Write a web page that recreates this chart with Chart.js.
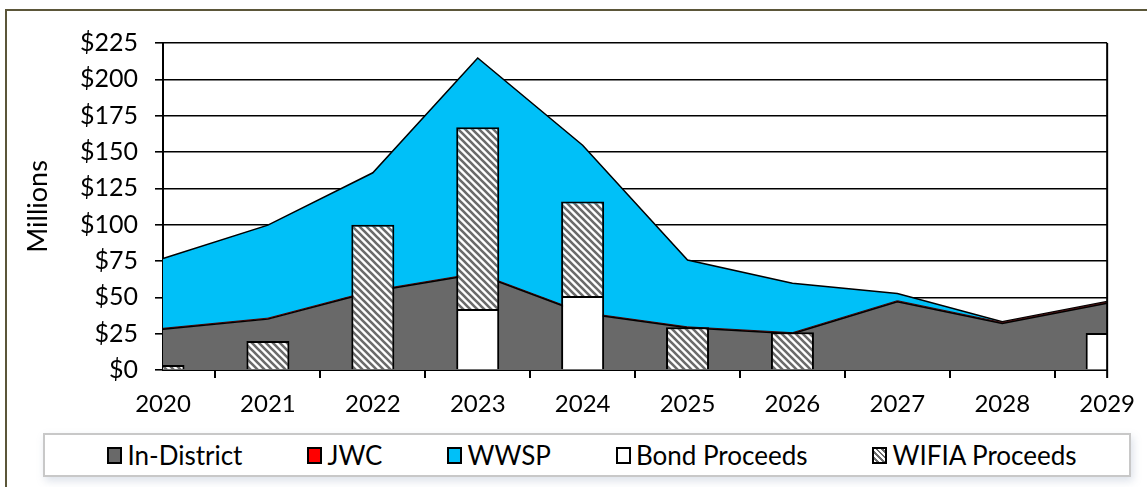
<!DOCTYPE html>
<html>
<head>
<meta charset="utf-8">
<script src="https://cdn.jsdelivr.net/npm/chart.js@4"></script>
<style>
  body { margin: 0; background: #fff; font-family: Lato, sans-serif; }
  #frame { position: absolute; left: 5px; top: 9px; width: 1160px; height: 500px;
           border-left: 2px solid #5b5639; border-top: 2px solid #5b5639; }
  #wrap { position: absolute; left: 0; top: 0; width: 1147px; height: 425px; }
  #legend { position: absolute; left: 43px; top: 433px; width: 1074px; height: 40px;
            border: 2px solid #c8c8c8; box-shadow: 2px 4px 8px rgba(120,140,170,0.25);
            display: flex; align-items: center; justify-content: center; gap: 65px;
            font-size: 26px; color: #000; padding-left: 10px; box-sizing: content-box; }
  .item { display: flex; align-items: center; white-space: nowrap; }
  .sw { width: 11px; height: 13px; border: 2px solid #000; margin-right: 5px; }
</style>
</head>
<body>
<div id="frame"></div>
<div id="wrap"><canvas id="fundChart"></canvas></div>
<div id="legend"></div>
<script>
// ===== data (millions) =====
const years = ['2020','2021','2022','2023','2024','2025','2026','2027','2028','2029'];
const inDistrict = [28, 35, 54, 66, 39, 29, 25, 47, 32, 46];
const jwc        = [0.7, 0.7, 0.7, 0.7, 0.7, 0.7, 0.7, 0.7, 0.7, 0.7];
const wwsp       = [48, 64, 81, 148, 115, 46, 34, 5, 0.5, 0.5];
const bond       = [0, 0, 0, 42, 51, 0, 0, 0, 0, 25.5];
const wifia      = [3.5, 20, 100, 125, 65, 29.5, 26, 0, 0, 0];
const yTicks     = [0, 25, 50, 75, 100, 125, 150, 175, 200, 225];

// hatch pattern for WIFIA
function makeHatch() {
  const c = document.createElement('canvas');
  c.width = 7; c.height = 7;
  const g = c.getContext('2d');
  g.fillStyle = '#fff';
  g.fillRect(0, 0, 7, 7);
  g.strokeStyle = '#6b6b6b';
  g.lineWidth = 2.6;
  g.beginPath();
  g.moveTo(-2, -2); g.lineTo(9, 9);
  g.moveTo(-9, -2); g.lineTo(2, 9);
  g.moveTo(5, -2); g.lineTo(16, 9);
  g.stroke();
  return g.createPattern(c, 'repeat');
}
const hatch = makeHatch();

// right border of plot area
const plotBox = {
  id: 'plotBox',
  afterDatasetsDraw(chart) {
    const { ctx, chartArea: a } = chart;
    ctx.save();
    ctx.strokeStyle = '#000';
    ctx.lineWidth = 2;
    ctx.beginPath();
    ctx.moveTo(a.right, a.top);
    ctx.lineTo(a.right, a.bottom + 8);
    ctx.stroke();
    ctx.restore();
  }
};

const chart = new Chart(document.getElementById('fundChart'), {
  data: {
    labels: years,
    datasets: [
      { type: 'line', label: 'In-District', data: inDistrict, stack: 'uses',
        backgroundColor: '#696969', borderColor: '#000', borderWidth: 1.5,
        fill: 'origin', pointRadius: 0, tension: 0, order: 1 },
      { type: 'line', label: 'JWC', data: jwc, stack: 'uses',
        backgroundColor: '#ff0000', borderColor: '#3a1010', borderWidth: 1,
        fill: '-1', pointRadius: 0, tension: 0, order: 1 },
      { type: 'line', label: 'WWSP', data: wwsp, stack: 'uses',
        backgroundColor: '#00c0f8', borderColor: '#000', borderWidth: 1.5,
        fill: '-1', pointRadius: 0, tension: 0, order: 1 },
      { type: 'bar', label: 'Bond Proceeds', data: bond, stack: 'funds',
        backgroundColor: '#fff', borderColor: '#000', borderWidth: 2,
        categoryPercentage: 1, barPercentage: 0.41, order: 0 },
      { type: 'bar', label: 'WIFIA Proceeds', data: wifia, stack: 'funds',
        backgroundColor: hatch, borderColor: '#000', borderWidth: 2,
        categoryPercentage: 1, barPercentage: 0.41, order: 0 }
    ]
  },
  options: {
    responsive: true,
    maintainAspectRatio: false,
    animation: false,
    layout: { padding: { left: 18, right: 39, top: 43, bottom: 0 } },
    plugins: {
      legend: { display: false },
      tooltip: { enabled: false }
    },
    scales: {
      x: {
        stacked: true,
        offset: false,
        grid: { display: true, drawOnChartArea: false, color: '#000', lineWidth: 2, tickLength: 8 },
        border: { color: '#000', width: 2 },
        ticks: { color: '#000', font: { family: 'Lato', size: 24 }, maxRotation: 0, padding: 12 },
        afterFit(s) { s.height = 55; }
      },
      y: {
        stacked: true,
        min: 0,
        max: 225,
        afterBuildTicks(s) { s.ticks = yTicks.map(v => ({ value: v })); },
        grid: { color: '#000', lineWidth: 1.6, tickLength: 8 },
        border: { color: '#000', width: 2 },
        ticks: { color: '#000', font: { family: 'Lato', size: 25 }, padding: 17,
                 callback: v => '$' + v },
        title: { display: true, text: 'Millions', color: '#000',
                 font: { family: 'Lato', size: 27 }, padding: { bottom: 8 } },
        afterFit(s) { s.width = 145; }
      }
    }
  },
  plugins: [plotBox]
});

// legend in its own box, built from the datasets
const legend = document.getElementById('legend');
chart.data.datasets.forEach(ds => {
  const item = document.createElement('div');
  item.className = 'item';
  const sw = document.createElement('span');
  sw.className = 'sw';
  if (ds.label === 'WIFIA Proceeds') {
    sw.style.background = 'repeating-linear-gradient(45deg, #fff 0 2px, #6b6b6b 2px 4px)';
  } else {
    sw.style.background = ds.backgroundColor;
  }
  item.appendChild(sw);
  item.appendChild(document.createTextNode(ds.label));
  legend.appendChild(item);
});
</script>
</body>
</html>
